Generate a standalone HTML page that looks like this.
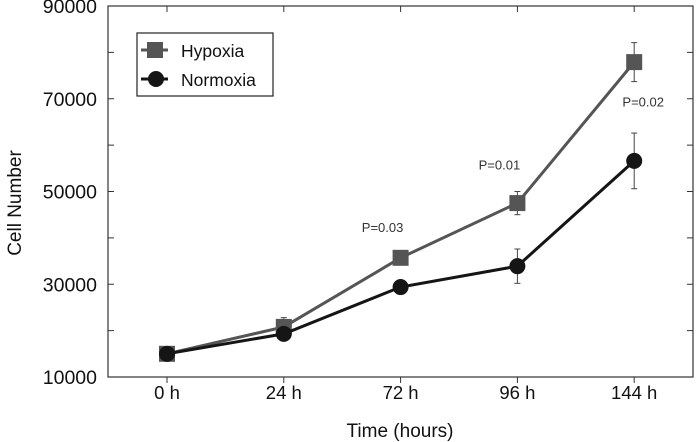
<!DOCTYPE html>
<html><head><meta charset="utf-8"><style>
body{margin:0;background:#fff;}
svg{display:block;font-family:"Liberation Sans",Arial,sans-serif;}
</style></head><body>
<svg id="chart" width="699" height="442"></svg>
<script>
const categories=["0 h","24 h","72 h","96 h","144 h"];
const hypoxia=[15000,20800,35700,47500,77900];
const hypoxiaErr=[600,2000,800,2500,4200];
const normoxia=[15000,19300,29400,33900,56600];
const normoxiaErr=[500,600,600,3700,6000];
const yTicks=[10000,30000,50000,70000,90000];
const pLabels=[null,null,"P=0.03","P=0.01","P=0.02"];
const NS="http://www.w3.org/2000/svg";
const svg=document.getElementById('chart');
const L=108,R=693,T=6,B=377;
const y=v=>B-(v-10000)/80000*(B-T);
const x=i=>167+i*116.8;
function el(t,a,p){const e=document.createElementNS(NS,t);for(const k in a)e.setAttribute(k,a[k]);(p||svg).appendChild(e);return e;}
const frame=el('rect',{x:L,y:T,width:R-L,height:B-T,fill:'none',stroke:'#333','stroke-width':1.2});


for(let v=10000;v<=90000;v+=10000){
 el('line',{x1:L,x2:L+6,y1:y(v),y2:y(v),stroke:'#333'});
 el('line',{x1:R,x2:R-6,y1:y(v),y2:y(v),stroke:'#333'});
}
yTicks.forEach(v=>{
 const t=el('text',{x:97,y:y(v)+7,'text-anchor':'end','font-size':19.5,fill:'#111'});t.textContent=v;
 
 
});
categories.forEach((c,i)=>{
 el('line',{x1:x(i),x2:x(i),y1:B,y2:B+6,stroke:'#333'});
 el('line',{x1:x(i),x2:x(i),y1:T,y2:T+6,stroke:'#333'});
 const t=el('text',{x:x(i),y:399,'text-anchor':'middle','font-size':18.5,fill:'#111'});t.textContent=c;
 
 
});
const yt=el('text',{x:0,y:0,transform:'translate(21,203) rotate(-90)','text-anchor':'middle','font-size':19,fill:'#111'});yt.textContent='Cell Number';


const xt=el('text',{x:400,y:437,'text-anchor':'middle','font-size':19,fill:'#111'});xt.textContent='Time (hours)';


function series(vals,errs,color,shape,name){
 const g=el('g',{});
 
 
 vals.forEach((v,i)=>{
  el('line',{x1:x(i),x2:x(i),y1:y(v+errs[i]),y2:y(v-errs[i]),stroke:'#444','stroke-width':1},g);
  el('line',{x1:x(i)-3,x2:x(i)+3,y1:y(v+errs[i]),y2:y(v+errs[i]),stroke:'#444'},g);
  el('line',{x1:x(i)-3,x2:x(i)+3,y1:y(v-errs[i]),y2:y(v-errs[i]),stroke:'#444'},g);
 });
 el('polyline',{points:vals.map((v,i)=>x(i)+','+y(v)).join(' '),fill:'none',stroke:color,'stroke-width':3},g);
 vals.forEach((v,i)=>{
  let m;
  if(shape==='sq')m=el('rect',{x:x(i)-8,y:y(v)-8,width:16,height:16,fill:color},g);
  else m=el('circle',{cx:x(i),cy:y(v),r:8,fill:color},g);
  
  
 });
}
series(hypoxia,hypoxiaErr,'#555','sq','hypoxia');
series(normoxia,normoxiaErr,'#151515','ci','normoxia');
pLabels.forEach((p,i)=>{
 if(!p)return;
 const yy=i===4?y(hypoxia[i]-hypoxiaErr[i])+25:y(hypoxia[i]+hypoxiaErr[i])-22;
 const t=el('text',{x:x(i)+(i===4?9:-18),y:yy,'text-anchor':'middle','font-size':13,fill:'#333'});t.textContent=p;
 
 
});
const lg=el('g',{});


el('rect',{x:137,y:33,width:136,height:63,fill:'#fff',stroke:'#222','stroke-width':1.2},lg);
el('line',{x1:141,x2:168,y1:50,y2:50,stroke:'#555','stroke-width':3},lg);
el('rect',{x:147,y:42,width:16,height:16,fill:'#555'},lg);
el('line',{x1:141,x2:168,y1:79,y2:79,stroke:'#151515','stroke-width':3},lg);
el('circle',{cx:156,cy:79,r:8,fill:'#151515'},lg);
const t1=el('text',{x:181,y:57,'font-size':17.5,fill:'#111'},lg);t1.textContent='Hypoxia';


const t2=el('text',{x:181,y:86,'font-size':17.5,fill:'#111'},lg);t2.textContent='Normoxia';


</script>
</body></html>
